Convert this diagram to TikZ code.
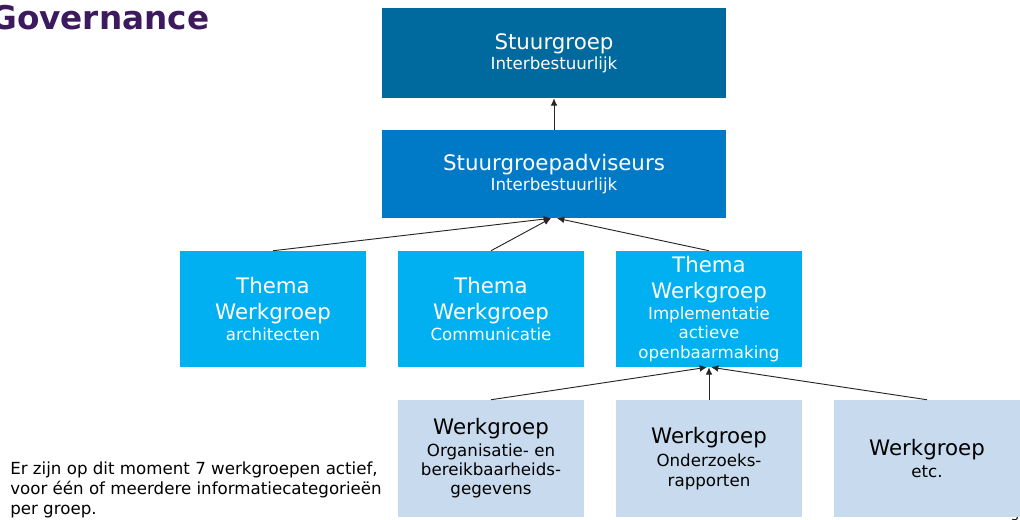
\documentclass[tikz,border=0pt]{standalone}
\usepackage{fontspec}
\setmainfont{DejaVu Sans}
\usepackage{tikz}
\usetikzlibrary{arrows.meta,positioning}
\definecolor{StuurBlue}{HTML}{006A9E}
\definecolor{AdvBlue}{HTML}{0079C7}
\definecolor{ThemaBlue}{HTML}{00B0F0}
\definecolor{WerkBlue}{HTML}{C8DBEE}
\definecolor{TitlePurple}{HTML}{3D1A5E}
\newcommand{\grotetekst}{\fontsize{16}{14.5}\selectfont}
\newcommand{\kleinetekst}{\fontsize{12.5}{14.5}\selectfont}
\tikzset{
  box/.style={minimum width=139.5pt, align=center, inner sep=2pt, font=\grotetekst},
  stuurbox/.style={box, fill=StuurBlue, text=white, minimum width=258pt},
  themabox/.style={box, fill=ThemaBlue, text=white, minimum height=87pt},
  werkbox/.style={box, fill=WerkBlue, text=black, minimum height=87.75pt},
  pijl/.style={draw=black!85, line width=0.7pt, -{Latex[length=5.5pt,width=5pt]}}
}
\begin{document}
\begin{tikzpicture}[x=0.75pt,y=-0.75pt]
      \useasboundingbox (0,0) rectangle (1020,519);
      %% titel en tekst
      \node (titel) [anchor=base west, inner sep=0pt, text=TitlePurple,
        font=\fontsize{24.5}{28}\selectfont\bfseries] at (-10,29) {Governance};
      \node (uitleg) [anchor=north west, inner sep=0pt, align=left,
        font=\fontsize{12.5}{15}\selectfont] at (10,462)
        {Er zijn op dit moment 7 werkgroepen actief,\\
         voor één of meerdere informatiecategorieën\\
         per groep.};
      \node (pagina) [anchor=north west, inner sep=0pt, font=\fontsize{9}{10}\selectfont] at (1011,511) {3};

      %% bovenste lagen
      \node (stuur) [stuurbox, minimum height=67.5pt] at (554,53)
        {Stuurgroep\\[0.5pt]\kleinetekst Interbestuurlijk};
      \node (adv) [stuurbox, fill=AdvBlue, minimum height=66pt] at (554,174)
        {Stuurgroepadviseurs\\[0.5pt]\kleinetekst Interbestuurlijk};

      %% thema werkgroepen
      \node (arch) [themabox] at (273,309)
        {Thema\\[5pt]Werkgroep\\[1pt]\kleinetekst architecten};
      \node (comm) [themabox] at (491,309)
        {Thema\\[5pt]Werkgroep\\[1pt]\kleinetekst Communicatie};
      \node (impl) [themabox] at (709,309)
        {Thema\\[5pt]Werkgroep\\[1pt]\kleinetekst Implementatie\\\kleinetekst actieve\\\kleinetekst openbaarmaking};

      %% werkgroepen
      \node (org) [werkbox] at (491,458.5)
        {Werkgroep\\[1.5pt]\kleinetekst Organisatie- en\\\kleinetekst bereikbaarheids-\\\kleinetekst gegevens};
      \node (onderz) [werkbox] at (709,458.5)
        {Werkgroep\\[3pt]\kleinetekst Onderzoeks-\\\kleinetekst rapporten};
      \node (etc) [werkbox] at (927,458.5)
        {Werkgroep\\[1.5pt]\kleinetekst etc.};

      \draw[pijl] (adv.north) -- (stuur.south);
      \draw[pijl] (arch.north) -- ([xshift=-2.25pt]adv.south);
      \draw[pijl] (comm.north) -- ([xshift=-2.25pt]adv.south);
      \draw[pijl] (impl.north) -- ([xshift=2.25pt]adv.south);
      \draw[pijl] (org.north) -- ([xshift=-1.5pt]impl.south);
      \draw[pijl] (onderz.north) -- (impl.south);
      \draw[pijl] (etc.north) -- ([xshift=1.5pt]impl.south);

    \end{tikzpicture}
\end{document}
